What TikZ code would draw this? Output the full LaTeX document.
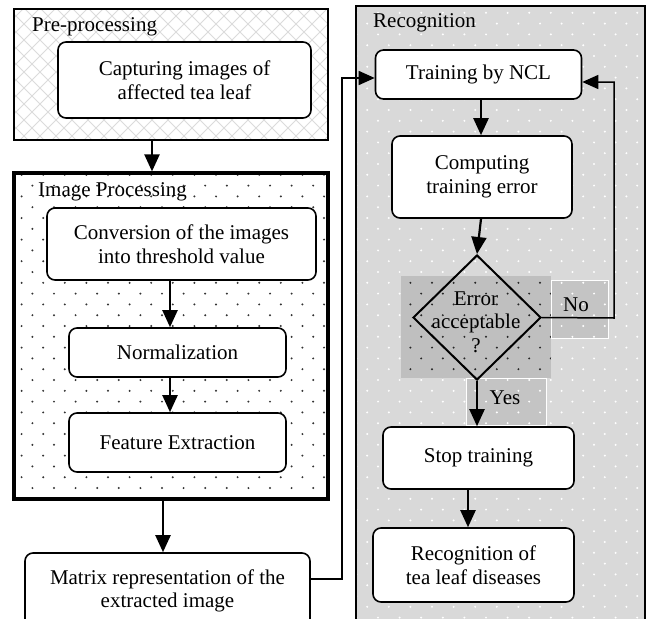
\documentclass[tikz,border=0pt]{standalone}
\usepackage{fontspec}
\setmainfont{Liberation Serif}
\usetikzlibrary{arrows.meta,shapes.geometric}
% lattice of dots clipped to a rectangle: x1,y1,x2,y2,colour,radius
\newcommand\latticedots[6]{%
  \begin{scope}
    \clip (#1,#2) rectangle (#3,#4);
    \pgfmathtruncatemacro\rLo{#2/10.8-1}
    \pgfmathtruncatemacro\rHi{#4/10.8+1}
    \pgfmathtruncatemacro\cLo{#1/21.6-1}
    \pgfmathtruncatemacro\cHi{#3/21.6+1}
    \foreach \r in {\rLo,...,\rHi}{\foreach \c in {\cLo,...,\cHi}{
      \fill[#5] ({\c*21.6+mod(\r,2)*10.8},{\r*10.8+2}) circle (#6);}}
  \end{scope}}
\begin{document}
\begin{tikzpicture}[x=1pt,y=-1pt,
  font=\fontsize{21}{23.5}\selectfont,
  box/.style={draw, line width=1.6pt, rounded corners=8pt, fill=white,
    align=center, inner sep=0pt},
  frame/.style={draw, inner sep=0pt},
  lbl/.style={anchor=base west, inner sep=0pt},
  arr/.style={line width=2.2pt, -{Triangle[length=17pt,width=15pt]}},
  thinarr/.style={line width=1.5pt, -{Triangle[length=16pt,width=14pt]}},
  hatchline/.style={draw=black!14, line width=0.8pt}]
\useasboundingbox (0,0) rectangle (652,618);
\clip (0,0) rectangle (652,618);

% ---------- backgrounds ----------
\fill[white] (14,9) rectangle (328,140);
\begin{scope}
  \clip (14,9) rectangle (328,140);
  \foreach \i in {-12,...,32}{
    \draw[hatchline] (\i*16,0) -- ++(150,150);
    \draw[hatchline] (\i*16,0) -- ++(-150,150);}
\end{scope}
\fill[white] (14,173) rectangle (328,499);
\latticedots{14}{173}{328}{499}{black!80}{1.1}

\fill[gray!30] (356,6) rectangle (645,640);
\latticedots{356}{6}{645}{640}{white}{1.1}
\fill[gray!50] (401,276) rectangle (551,378);
\latticedots{401}{276}{551}{378}{black!85}{1.1}
\filldraw[fill=gray!46, draw=white, line width=1pt] (551,280) rectangle (608,338);
\latticedots{551}{280}{608}{338}{white}{1.1}
\filldraw[fill=gray!46, draw=white, line width=1pt] (466,378) rectangle (546,425);
\latticedots{466}{378}{546}{425}{white}{1.1}

% ---------- frames ----------
\node[frame, line width=1.5pt, minimum width=314pt, minimum height=131pt] (pre) at (171,74.5) {};
\node[frame, line width=3.2pt, minimum width=314pt, minimum height=326pt] (imgp) at (171,336) {};
\node[frame, line width=2pt, minimum width=289pt, minimum height=634pt] (recbox) at (500.5,323) {};

\node[lbl] (lpre) at (32,32) {Pre-processing};
\node[lbl] (limg) at (38,196) {Image Processing};
\node[lbl] (lrec) at (373,27.5) {Recognition};

% ---------- left column ----------
\node[box, minimum width=253pt, minimum height=76pt] (cap) at (184.5,80) {Capturing images of\\affected tea leaf};
\node[box, minimum width=269pt, minimum height=72pt] (conv) at (181.5,244) {Conversion of the images\\into threshold value};
\node[box, minimum width=217pt, minimum height=49pt] (norm) at (177.5,352.5) {Normalization};
\node[box, minimum width=217pt, minimum height=59pt] (feat) at (177.5,442.5) {Feature Extraction};
\node[box, minimum width=285pt, minimum height=76pt] (mat) at (167.5,591) {Matrix representation of the\\extracted image};

% ---------- right column ----------
\node[box, minimum width=206pt, minimum height=49pt] (train) at (478.5,74.5) {Training by NCL};
\node[box, minimum width=180pt, minimum height=82pt] (comp) at (482,177) {Computing\\training error};
\node[draw, diamond, line width=2pt, minimum width=128pt, minimum height=125pt, inner sep=0pt] (dia) at (477,317.5) {};
\node[align=center, inner sep=0pt] (dtext) at (476,322) {Error\\acceptable\\?};
\node[inner sep=0pt] (no) at (576,305) {No};
\node[inner sep=0pt] (yes) at (505,398) {Yes};
\node[box, minimum width=191pt, minimum height=62pt] (stop) at (478.5,458) {Stop training};
\node[box, minimum width=201pt, minimum height=74pt] (rec) at (473.5,565) {Recognition of\\tea leaf diseases};

% ---------- connectors ----------
\coordinate (xa) at (152,0);
\coordinate (xb) at (170,0);
\coordinate (xc) at (163,0);
\coordinate (xd) at (481,0);
\coordinate (xe) at (468,0);
\coordinate (m1) at (342,579);
\coordinate (m2) at (342,78);
\coordinate (n1) at (614,318);
\coordinate (n2) at (614,82);

\draw[arr] (pre.south -| xa) -- (imgp.north -| xa);
\draw[arr] (conv.south -| xb) -- (norm.north -| xb);
\draw[arr] (norm.south -| xb) -- (feat.north -| xb);
\draw[arr] (imgp.south -| xc) -- (mat.north -| xc);
\draw[thinarr] (mat.east |- m1) -- (m1) -- (m2) -- (train.west |- m2);

\draw[arr] (train.south -| xd) -- (comp.north -| xd);
\draw[arr] (comp.south -| xd) -- (dia.north);
\draw[thinarr] (dia.east) -- (n1) -- (n2) -- (train.east |- n2);
\draw[arr] (dia.south) -- (dia.south |- stop.north);
\draw[arr] (stop.south -| xe) -- (rec.north -| xe);
\end{tikzpicture}
\end{document}
